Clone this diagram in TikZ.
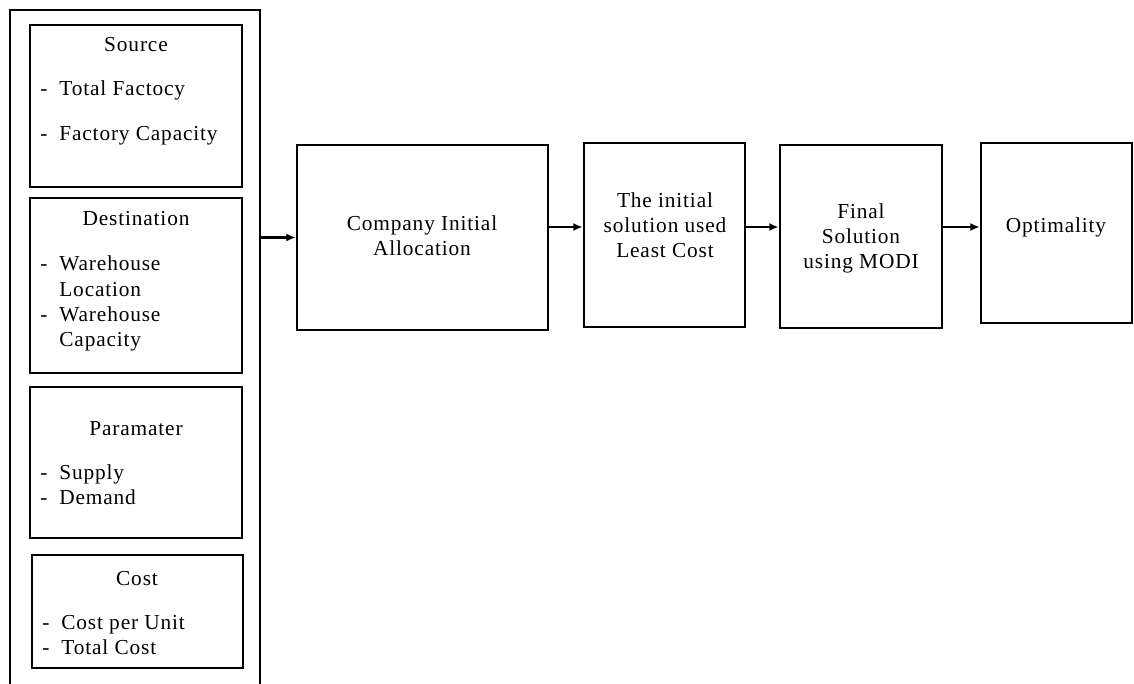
\documentclass[tikz,border=0pt]{standalone}
\usepackage{fontspec}
\setmainfont[LetterSpace=4]{Liberation Serif}
\usepackage{tikz}
\usetikzlibrary{arrows.meta, positioning, fit}

\newcommand{\itemlist}[1]{\begin{tabular}[t]{@{}l@{\hspace{9pt}}l@{}}#1\end{tabular}}

\begin{document}
\begin{tikzpicture}[
  x=0.75pt, y=-0.75pt,
  font=\fontsize{16}{18.75}\selectfont,
  panel/.style={draw=black, line width=2.1pt, inner sep=0pt},
  stage/.style={draw=black, line width=2.1pt, inner sep=0pt},
  head/.style={align=center, inner sep=0pt},
  items/.style={anchor=base west, inner sep=0pt},
  flow/.style={-{Latex[length=7pt,width=6pt]}, line width=1.6pt}
]
  \useasboundingbox (0,0) rectangle (1134,684);

  % input group
  \node[panel, fit={(10,10) (260,720)}] (inputs) {};

  \node[panel, fit={(30,25) (242,187)}] (source) {};
  \node[head] (sourceT) at (136,45) {Source};
  \node[items] (sourceL) at (40,96)
    {\itemlist{- & Total Factocy\\[15pt] - & Factory Capacity}};

  \node[panel, fit={(30,198) (242,373)}] (dest) {};
  \node[head] (destT) at (136,219) {Destination};
  \node[items] (destL) at (40,271)
    {\itemlist{- & Warehouse\\ & Location\\ - & Warehouse\\ & Capacity}};

  \node[panel, fit={(30,387) (242,538)}] (param) {};
  \node[head] (paramT) at (136,429) {Paramater};
  \node[items] (paramL) at (40,479)
    {\itemlist{- & Supply\\ - & Demand}};

  \node[panel, fit={(32,555) (243,668)}] (cost) {};
  \node[head] (costT) at (137,579) {Cost};
  \node[items] (costL) at (42,629)
    {\itemlist{- & Cost per Unit\\ - & Total Cost}};

  % process chain
  \node[stage, fit={(297,145) (548,330)}] (alloc) {};
  \node[head] (allocT) at (422,236) {Company Initial\\Allocation};

  \node[stage, fit={(584,143) (745,327)}] (init) {};
  \node[head] (initT) at (665,225) {The initial\\solution used\\Least Cost};

  \node[stage, fit={(780,145) (942,328)}] (final) {};
  \node[head] (finalT) at (861,238) {Final\\Solution\\using MODI};

  \node[stage, fit={(981,143) (1132,323)}] (optim) {};
  \node[head] (optimT) at (1056,227) {Optimality};

  \coordinate (row) at (0,227);
  \draw[flow] (inputs.east |- alloc.west) -- (alloc.west);
  \draw[flow] (alloc.east |- row) -- (init.west |- row);
  \draw[flow] (init.east |- row) -- (final.west |- row);
  \draw[flow] (final.east |- row) -- (optim.west |- row);
\end{tikzpicture}
\end{document}
